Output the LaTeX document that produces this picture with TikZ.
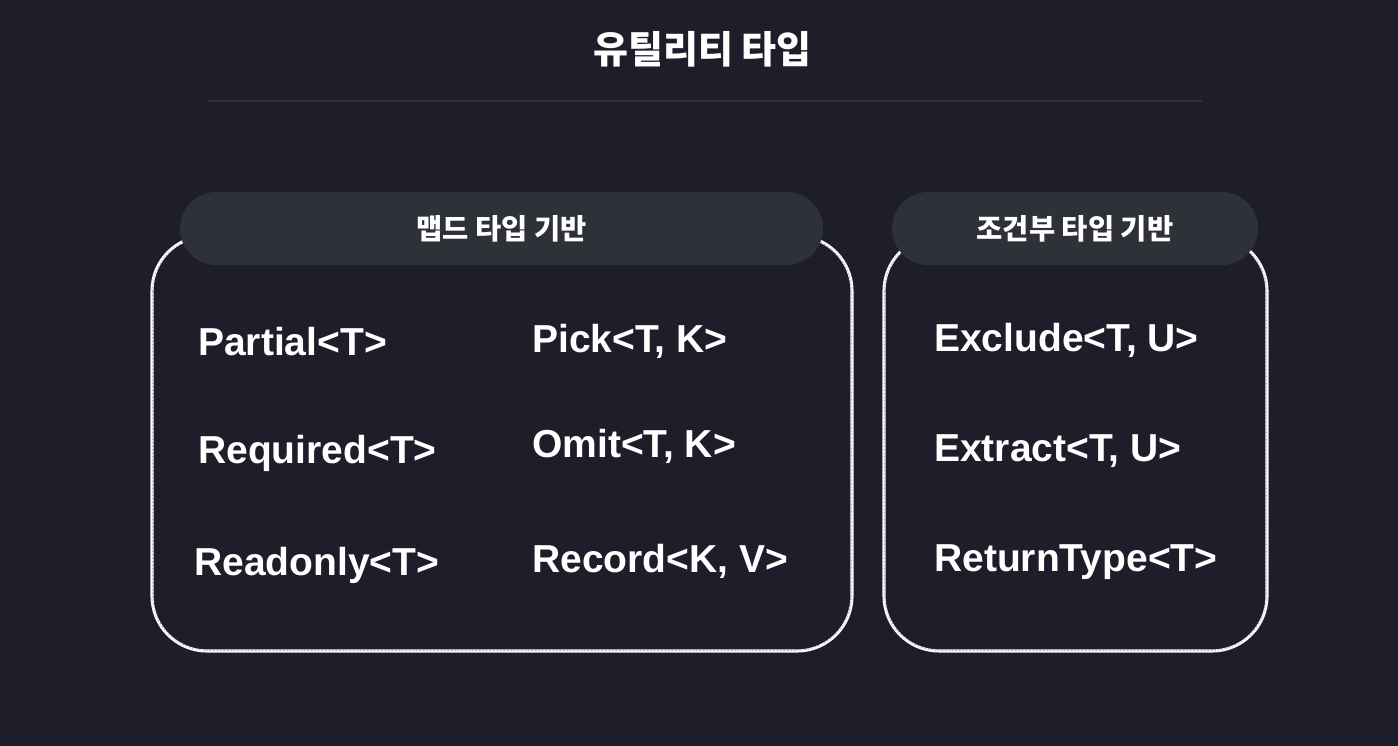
\documentclass[tikz,border=0pt]{standalone}
\usepackage{fontspec}
\setmainfont{Liberation Sans}
\newfontfamily\kr{Noto Sans CJK KR}
\definecolor{bgc}{HTML}{1E1E2B}
\definecolor{pillc}{HTML}{2F3138}
\definecolor{rulec}{HTML}{30303C}
\tikzset{
  chalk/.style={draw=white!94!gray, line width=3.1pt, rounded corners=55pt},
  chalktex/.style={draw=bgc!55!white, line width=0.5pt, rounded corners=55pt,
    dash pattern=on 1.2pt off 2.3pt},
  pill/.style={fill=pillc, rounded corners=36.5pt, draw=none},
  item/.style={anchor=base west, inner sep=0pt, text=white,
    font=\fontsize{39}{39}\selectfont\bfseries},
  pilltext/.style={inner sep=0pt, text=white, font=\kr\fontsize{28.5}{28.5}\selectfont\bfseries},
  titletext/.style={inner sep=0pt, text=white, font=\kr\fontsize{38}{38}\selectfont\bfseries}
}
\begin{document}
\begin{tikzpicture}[x=1pt, y=-1pt]
\fill[bgc] (0,0) rectangle (1398,746);
\useasboundingbox (0,0) rectangle (1398,746);
% title
\node[titletext] (title) at (702.5,49) {유틸리티 타입};
\coordinate (ruleL) at (207,101);
\coordinate (ruleR) at (1202,101);
\draw[rulec, line width=1.5pt] (ruleL) -- (ruleR);
% boxes
\draw[chalk] (152,236) rectangle (852,651);
\draw[chalktex] (152.7,236.7) rectangle (851.3,650.3);
\draw[chalk] (884,236) rectangle (1267,651);
\draw[chalktex] (884.7,236.7) rectangle (1266.3,650.3);
% pills
\fill[pill] (180,192) rectangle (823,265);
\fill[pill] (892,192) rectangle (1258,265);
\node[pilltext] (mapped) at (501.5,228.5) {맵드 타입 기반};
\node[pilltext] (cond) at (1075,228.5) {조건부 타입 기반};
% items
\node[item] (partial) at (198,355) {Partial<T>};
\node[item] (required) at (198,463) {Required<T>};
\node[item] (readonly) at (194,575) {Readonly<T>};
\node[item] (pick) at (532,352) {Pick<T, K>};
\node[item] (omit) at (532,457) {Omit<T, K>};
\node[item] (record) at (532,572) {Record<K, V>};
\node[item] (exclude) at (934,351) {Exclude<T, U>};
\node[item] (extract) at (934,461) {Extract<T, U>};
\node[item] (returntype) at (934,571) {ReturnType<T>};
\end{tikzpicture}
\end{document}
